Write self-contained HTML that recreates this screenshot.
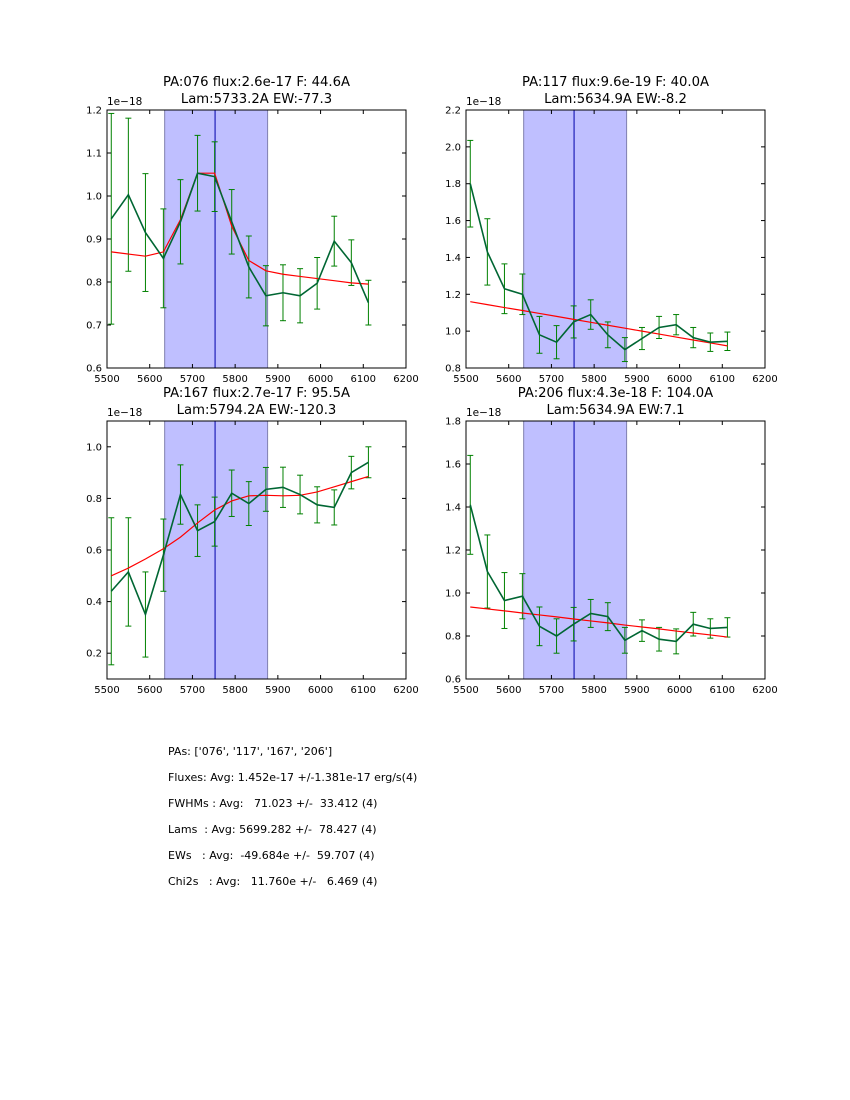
<!DOCTYPE html>
<html><head><meta charset="utf-8"><style>
body{margin:0;background:#fff;}
#wrap{position:relative;width:850px;height:1100px;overflow:hidden;font-family:"DejaVu Sans","Liberation Sans",sans-serif;}
.st{position:absolute;left:168px;font-size:11px;white-space:pre;color:#000;}
</style></head><body>
<div id="wrap">
<svg id="svg" width="850" height="1100" style="position:absolute;left:0;top:0"></svg>
<div class="st" style="top:745px">PAs: ['076', '117', '167', '206']</div>
<div class="st" style="top:771px">Fluxes: Avg: 1.452e-17 +/-1.381e-17 erg/s(4)</div>
<div class="st" style="top:797px">FWHMs : Avg:   71.023 +/-  33.412 (4)</div>
<div class="st" style="top:823px">Lams  : Avg: 5699.282 +/-  78.427 (4)</div>
<div class="st" style="top:849px">EWs   : Avg:  -49.684e +/-  59.707 (4)</div>
<div class="st" style="top:875px">Chi2s   : Avg:   11.760e +/-   6.469 (4)</div>
</div>
<script>
const wavelengths=[5510,5550,5590,5632,5672,5712,5752,5792,5832,5872,5912,5952,5992,6032,6072,6112];
const xTicks=[5500,5600,5700,5800,5900,6000,6100,6200];
const titles1=["PA:076 flux:2.6e-17 F: 44.6A","PA:117 flux:9.6e-19 F: 40.0A","PA:167 flux:2.7e-17 F: 95.5A","PA:206 flux:4.3e-18 F: 104.0A"];
const titles2=["Lam:5733.2A EW:-77.3","Lam:5634.9A EW:-8.2","Lam:5794.2A EW:-120.3","Lam:5634.9A EW:7.1"];
const flux1=[0.947,1.003,0.915,0.855,0.94,1.053,1.045,0.94,0.835,0.768,0.775,0.768,0.797,0.895,0.845,0.752];
const err1=[0.245,0.178,0.137,0.115,0.098,0.088,0.081,0.075,0.072,0.07,0.065,0.063,0.06,0.058,0.053,0.052];
const model1=[0.87,0.865,0.86,0.87,0.945,1.053,1.053,0.93,0.85,0.826,0.818,0.813,0.808,0.803,0.798,0.795];
const flux2=[1.8,1.43,1.23,1.2,0.98,0.94,1.05,1.09,0.98,0.90,0.96,1.02,1.035,0.965,0.94,0.945];
const err2=[0.235,0.18,0.135,0.11,0.1,0.09,0.087,0.08,0.07,0.065,0.06,0.06,0.055,0.055,0.05,0.05];
const model2=[1.16,1.144,1.128,1.112,1.096,1.08,1.064,1.048,1.032,1.016,1.0,0.984,0.968,0.952,0.936,0.92];
const flux3=[0.44,0.515,0.35,0.58,0.815,0.675,0.71,0.82,0.78,0.835,0.843,0.815,0.775,0.765,0.9,0.94];
const err3=[0.285,0.21,0.165,0.14,0.115,0.1,0.095,0.09,0.085,0.085,0.078,0.075,0.07,0.068,0.063,0.06];
const model3=[0.5,0.53,0.565,0.605,0.65,0.705,0.755,0.79,0.81,0.812,0.81,0.812,0.825,0.845,0.865,0.885];
const flux4=[1.41,1.10,0.965,0.985,0.845,0.80,0.855,0.905,0.89,0.78,0.825,0.785,0.775,0.855,0.835,0.84];
const err4=[0.23,0.17,0.13,0.105,0.09,0.08,0.078,0.065,0.065,0.06,0.05,0.055,0.058,0.055,0.045,0.045];
const model4=[0.935,0.926,0.917,0.907,0.898,0.889,0.879,0.87,0.861,0.851,0.842,0.833,0.823,0.814,0.805,0.795];
const yTicks1=[0.6,0.7,0.8,0.9,1.0,1.1,1.2];
const yTicks2=[0.8,1.0,1.2,1.4,1.6,1.8,2.0,2.2];
const yTicks3=[0.2,0.4,0.6,0.8,1.0];
const yTicks4=[0.6,0.8,1.0,1.2,1.4,1.6,1.8];
const yRanges=[[0.6,1.2],[0.8,2.2],[0.1,1.1],[0.6,1.8]];
const spanLo=5635, spanHi=5876, lineCenter=5753;

const NS="http://www.w3.org/2000/svg";
const svg=document.getElementById('svg');
function mk(tag,attrs,parent,name){const e=document.createElementNS(NS,tag);for(const k in attrs)e.setAttribute(k,attrs[k]);


(parent||svg).appendChild(e);return e;}
const panels=[
 {L:107,T:110,W:299,H:258,f:flux1,e:err1,m:model1,yt:yTicks1},
 {L:466,T:110,W:299,H:258,f:flux2,e:err2,m:model2,yt:yTicks2},
 {L:107,T:421,W:299,H:258,f:flux3,e:err3,m:model3,yt:yTicks3},
 {L:466,T:421,W:299,H:258,f:flux4,e:err4,m:model4,yt:yTicks4}];
panels.forEach((p,i)=>{
 const g=mk('g',{},svg,'panel-'+(i+1));
 const [y0,y1]=yRanges[i];
 const X=v=>p.L+(v-5500)/700*p.W;
 const Y=v=>p.T+p.H-(v-y0)/(y1-y0)*p.H;
 mk('rect',{x:X(spanLo),y:p.T,width:X(spanHi)-X(spanLo),height:p.H,fill:'#bfbfff',stroke:'#8080b0','stroke-width':1},g,'fit-window-span');
 mk('line',{x1:X(lineCenter),x2:X(lineCenter),y1:p.T,y2:p.T+p.H,stroke:'#0000aa','stroke-width':1},g,'line-center-marker');
 wavelengths.forEach((w,j)=>{
  const x=X(w),a=Y(p.f[j]+p.e[j]),b=Y(p.f[j]-p.e[j]);
  mk('line',{x1:x,x2:x,y1:a,y2:b,stroke:'#008000','stroke-width':1},g,'error-bar');
  mk('line',{x1:x-3,x2:x+3,y1:a,y2:a,stroke:'#008000','stroke-width':1},g,'error-cap');
  mk('line',{x1:x-3,x2:x+3,y1:b,y2:b,stroke:'#008000','stroke-width':1},g,'error-cap');
 });
 mk('polyline',{points:wavelengths.map((w,j)=>X(w)+','+Y(p.m[j])).join(' '),fill:'none',stroke:'#ff0000','stroke-width':1.2},g,'model-line');
 mk('polyline',{points:wavelengths.map((w,j)=>X(w)+','+Y(p.f[j])).join(' '),fill:'none',stroke:'#006633','stroke-width':1.6},g,'flux-line');
 mk('rect',{x:p.L,y:p.T,width:p.W,height:p.H,fill:'none',stroke:'#000','stroke-width':1},g,'axes-frame');
 xTicks.forEach(t=>{const x=X(t);
  mk('line',{x1:x,x2:x,y1:p.T+p.H,y2:p.T+p.H-4,stroke:'#000'},g,'x-tick');
  mk('line',{x1:x,x2:x,y1:p.T,y2:p.T+4,stroke:'#000'},g,'x-tick');
  const tx=mk('text',{x:x,y:p.T+p.H+14,'font-size':10,'text-anchor':'middle','font-family':'DejaVu Sans, sans-serif'},g,'x-tick-label');tx.textContent=t;});
 p.yt.forEach(t=>{const y=Y(t);
  mk('line',{x1:p.L,x2:p.L+4,y1:y,y2:y,stroke:'#000'},g,'y-tick');
  mk('line',{x1:p.L+p.W,x2:p.L+p.W-4,y1:y,y2:y,stroke:'#000'},g,'y-tick');
  const tx=mk('text',{x:p.L-5,y:y+3.5,'font-size':10,'text-anchor':'end','font-family':'DejaVu Sans, sans-serif'},g,'y-tick-label');tx.textContent=t.toFixed(1);});
 const ex=mk('text',{x:p.L,y:p.T-5,'font-size':10.5,'font-family':'DejaVu Sans, sans-serif'},g,'y-offset-label');ex.textContent='1e\u221218';
 const t1=mk('text',{x:p.L+p.W/2,y:p.T-24,'font-size':13.2,'text-anchor':'middle','font-family':'DejaVu Sans, sans-serif'},g,'panel-title');t1.textContent=titles1[i];
 const t2=mk('text',{x:p.L+p.W/2,y:p.T-7,'font-size':13.2,'text-anchor':'middle','font-family':'DejaVu Sans, sans-serif'},g,'panel-subtitle');t2.textContent=titles2[i];
});
</script>
</body></html>
